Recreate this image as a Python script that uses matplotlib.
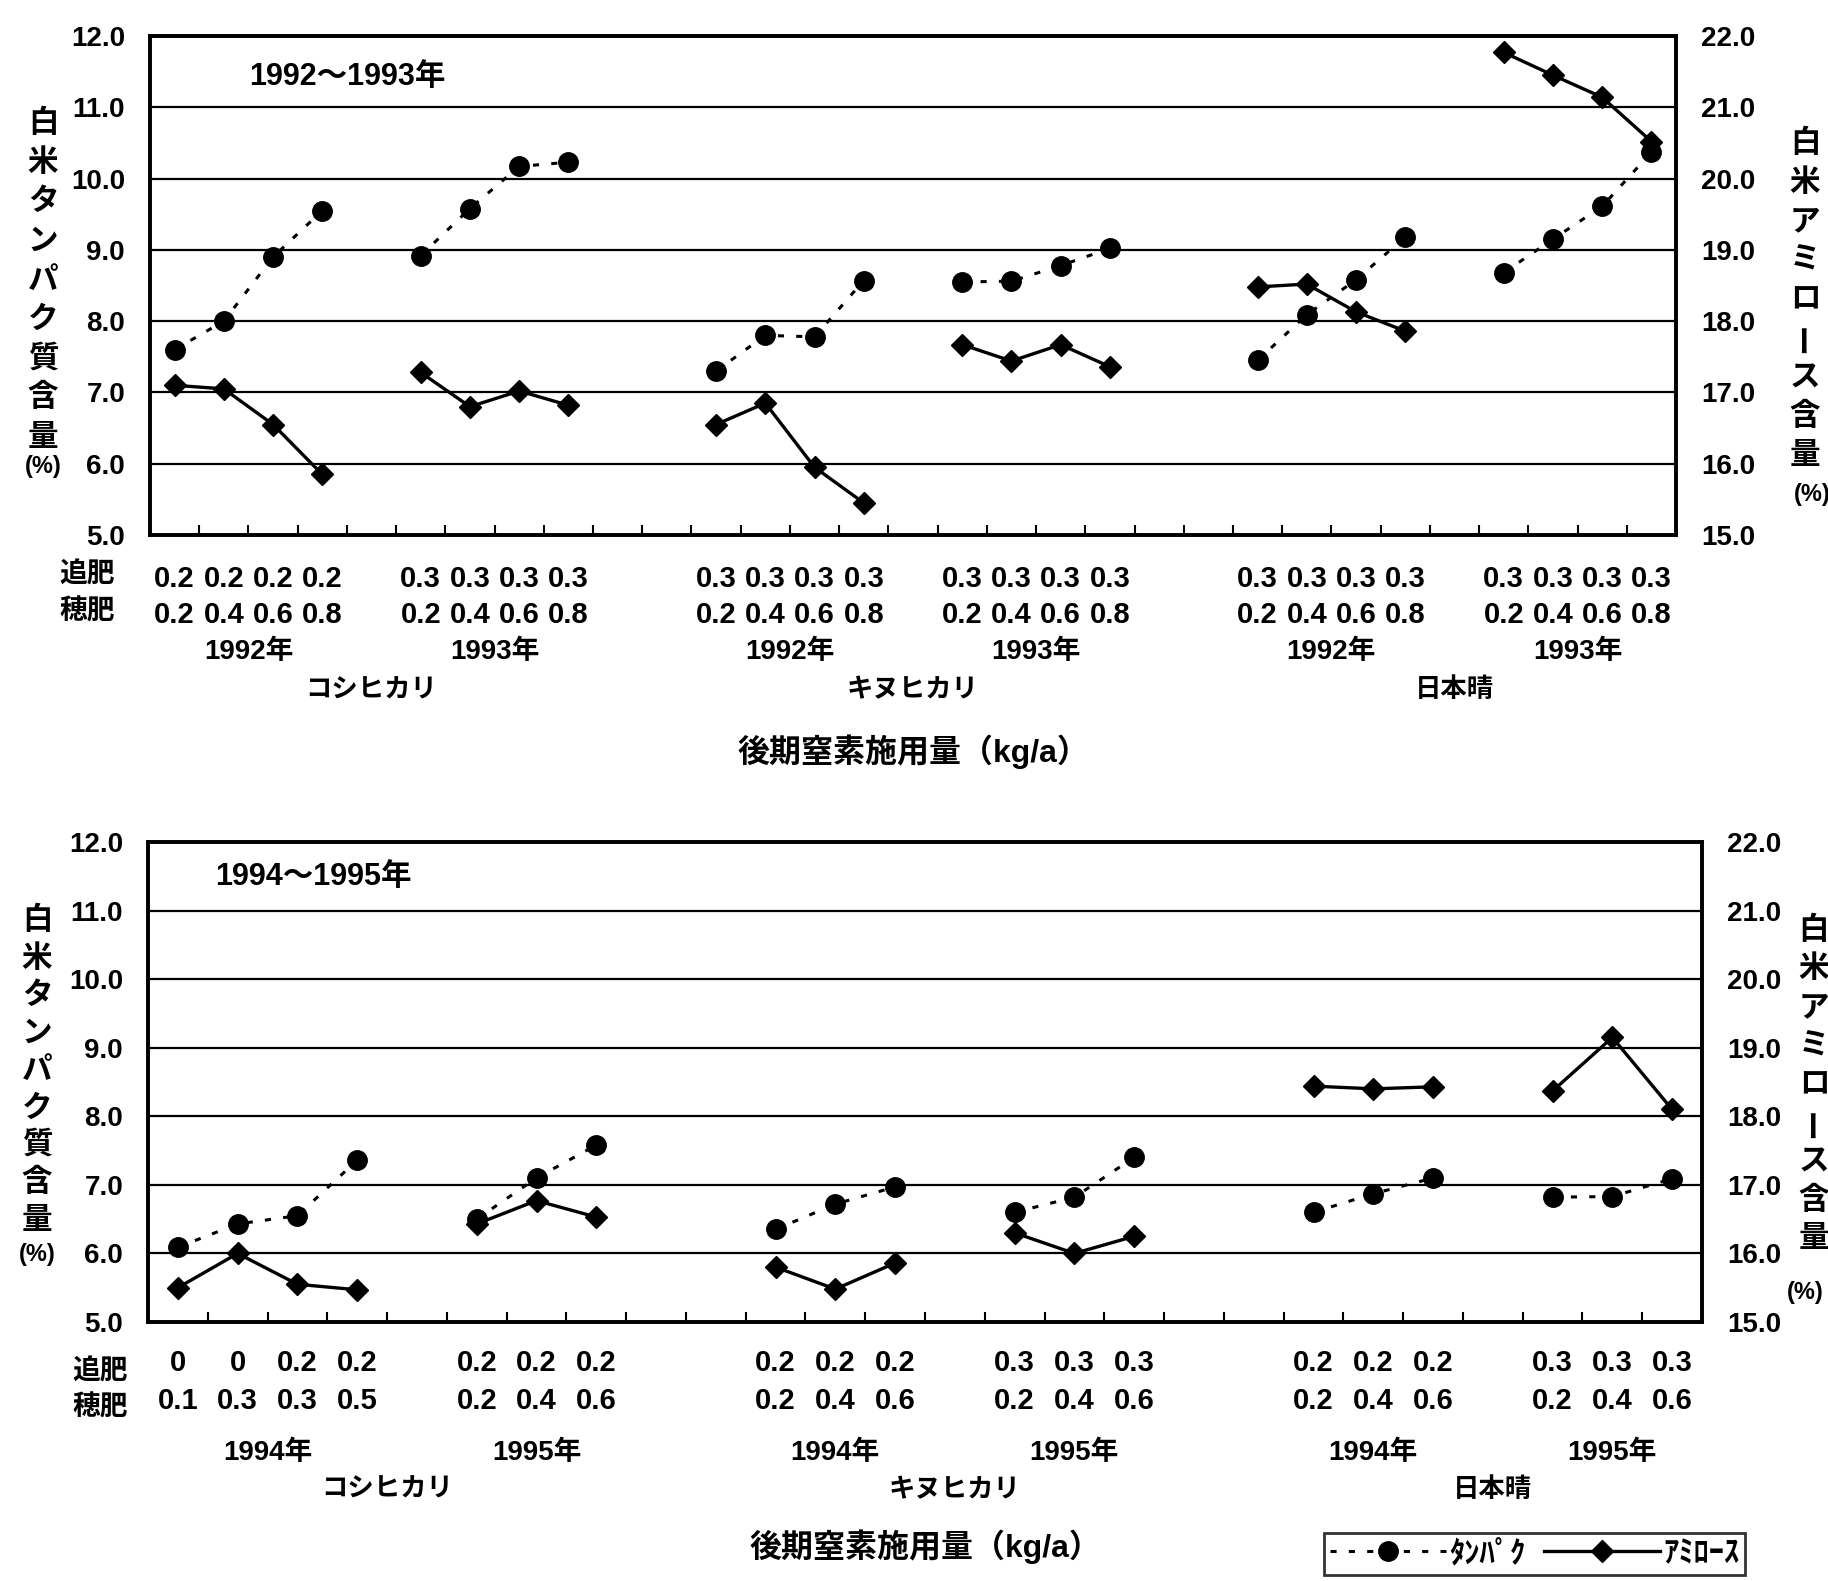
import matplotlib
matplotlib.use("Agg")
import matplotlib.pyplot as plt
from matplotlib.lines import Line2D
from matplotlib.transforms import blended_transform_factory

plt.rcParams['font.family'] = ['Liberation Sans', 'Noto Sans CJK JP', 'DejaVu Sans']
plt.rcParams['font.weight'] = 'bold'

# ---- data ----
varieties = ['コシヒカリ', 'キヌヒカリ', '日本晴']

# 1992-1993 panel (one entry per variety-year group)
top_years = ['1992年', '1993年', '1992年', '1993年', '1992年', '1993年']
top_tsuihi = [['0.2'] * 4, ['0.3'] * 4, ['0.3'] * 4, ['0.3'] * 4, ['0.3'] * 4, ['0.3'] * 4]
top_hoshi = [['0.2', '0.4', '0.6', '0.8']] * 6
top_protein = [[7.6, 8.0, 8.9, 9.55],
               [8.92, 9.58, 10.17, 10.23],
               [7.3, 7.8, 7.78, 8.57],
               [8.55, 8.56, 8.78, 9.02],
               [7.45, 8.09, 8.58, 9.18],
               [8.68, 9.15, 9.61, 10.37]]
top_amylose = [[17.1, 17.05, 16.55, 15.85],
               [17.28, 16.8, 17.02, 16.82],
               [16.55, 16.85, 15.95, 15.45],
               [17.67, 17.44, 17.67, 17.36],
               [18.48, 18.52, 18.13, 17.86],
               [21.77, 21.45, 21.14, 20.52]]

# 1994-1995 panel
bot_years = ['1994年', '1995年', '1994年', '1995年', '1994年', '1995年']
bot_tsuihi = [['0', '0', '0.2', '0.2'], ['0.2'] * 3, ['0.2'] * 3, ['0.3'] * 3, ['0.2'] * 3, ['0.3'] * 3]
bot_hoshi = [['0.1', '0.3', '0.3', '0.5'], ['0.2', '0.4', '0.6'], ['0.2', '0.4', '0.6'],
             ['0.2', '0.4', '0.6'], ['0.2', '0.4', '0.6'], ['0.2', '0.4', '0.6']]
bot_protein = [[6.09, 6.43, 6.55, 7.36],
               [6.5, 7.1, 7.58],
               [6.35, 6.72, 6.97],
               [6.6, 6.82, 7.4],
               [6.6, 6.87, 7.1],
               [6.82, 6.83, 7.09]]
bot_amylose = [[15.5, 16.0, 15.55, 15.47],
               [16.43, 16.77, 16.53],
               [15.8, 15.48, 15.86],
               [16.3, 16.0, 16.25],
               [18.44, 18.4, 18.43],
               [18.37, 19.15, 18.1]]

left_ticks = [5, 6, 7, 8, 9, 10, 11, 12]
right_ticks = [15, 16, 17, 18, 19, 20, 21, 22]
left_label = '白米タンパク質含量'
right_label = '白米アミロース含量'
xlabel = '後期窒素施用量（kg/a）'

W, H = 1828, 1581
fig = plt.figure(figsize=(W / 100, H / 100), dpi=100)


def fy(y):
    return 1 - y / H


def slot_positions(sizes):
    # one empty slot between years, two between varieties
    pos, x = [], 0
    for i, n in enumerate(sizes):
        pos.append(list(range(x, x + n)))
        x += n + (1 if i % 2 == 0 else 2)
    return pos, x - 2


def vertical_text(x, y0, step, text, size=22):
    for i, ch in enumerate(text):
        rot = 90 if ch == 'ー' else 0
        fig.text(x / W, fy(y0 + i * step), ch, ha='center', va='center',
                 fontsize=size, rotation=rot, family=['Noto Sans CJK JP'])


def panel(rect, protein, amylose, tsuihi, hoshi, years, period, rows_y, title_xy):
    ax = fig.add_axes(rect)
    ax2 = ax.twinx()
    pos, total = slot_positions([len(p) for p in protein])

    for xs, p, a in zip(pos, protein, amylose):
        ax.plot(xs, p, color='k', lw=2.2, ls=(0, (2, 4)), marker='o', ms=14, zorder=3)
        ax2.plot(xs, a, color='k', lw=2.4, ls='-', marker='D', ms=11, zorder=3)

    ax.set_xlim(-0.5, total - 0.5)
    ax.set_ylim(5, 12)
    ax2.set_ylim(15, 22)
    ax.set_yticks(left_ticks)
    ax.set_yticklabels([f'{v:.1f}' for v in left_ticks])
    ax2.set_yticks(right_ticks)
    ax2.set_yticklabels([f'{v:.1f}' for v in right_ticks])
    ax.set_xticks([i + 0.5 for i in range(total - 1)])
    ax.tick_params(axis='x', direction='in', length=7, width=1.5, labelbottom=False)
    ax.tick_params(axis='y', length=0, pad=18, labelsize=20)
    ax2.tick_params(axis='y', length=0, pad=18, labelsize=20)
    ax.grid(axis='y', color='k', lw=1.6)
    for a in (ax, ax2):
        for s in a.spines.values():
            s.set_linewidth(2.6)

    ax.text(title_xy[0] / W, fy(title_xy[1]), period, transform=fig.transFigure,
            ha='center', va='center', fontsize=22)

    tr = blended_transform_factory(ax.transData, fig.transFigure)
    r1, r2, ry, rv, rx = rows_y
    for xs, t, h, yr in zip(pos, tsuihi, hoshi, years):
        for x, a, b in zip(xs, t, h):
            ax.text(x, fy(r1), a, transform=tr, ha='center', va='center', fontsize=21)
            ax.text(x, fy(r2), b, transform=tr, ha='center', va='center', fontsize=21)
        ax.text((xs[0] + xs[-1]) / 2, fy(ry), yr, transform=tr, ha='center', va='center',
                fontsize=20)
    for k, name in enumerate(varieties):
        c = (pos[2 * k][0] + pos[2 * k + 1][-1]) / 2
        ax.text(c, fy(rv), name, transform=tr, ha='center', va='center', fontsize=19)
    ax.text((total - 1) / 2, fy(rx), xlabel, transform=tr, ha='center', va='center',
            fontsize=23)
    return ax


# top panel: 1992-1993
panel([150 / W, fy(535), 1526 / W, 499 / H], top_protein, top_amylose, top_tsuihi,
      top_hoshi, top_years, '1992〜1993年', (579, 615, 652, 690, 752), (347, 77))
fig.text(87 / W, fy(576), '追肥', ha='center', va='center', fontsize=20)
fig.text(87 / W, fy(613), '穂肥', ha='center', va='center', fontsize=20)
vertical_text(43, 123, 39.2, left_label)
fig.text(43 / W, fy(466), '(%)', ha='center', va='center', fontsize=17)
vertical_text(1805, 143, 39, right_label)
fig.text(1812 / W, fy(495), '(%)', ha='center', va='center', fontsize=17)

# bottom panel: 1994-1995
panel([148 / W, fy(1322), 1554 / W, 480 / H], bot_protein, bot_amylose, bot_tsuihi,
      bot_hoshi, bot_years, '1994〜1995年', (1363, 1401, 1453, 1490, 1547), (313, 877))
fig.text(100 / W, fy(1373), '追肥', ha='center', va='center', fontsize=20)
fig.text(100 / W, fy(1409), '穂肥', ha='center', va='center', fontsize=20)
vertical_text(37, 920, 37.5, left_label)
fig.text(37 / W, fy(1255), '(%)', ha='center', va='center', fontsize=17)
vertical_text(1814, 930, 38.5, right_label)
fig.text(1805 / W, fy(1292), '(%)', ha='center', va='center', fontsize=17)

handles = [Line2D([], [], color='k', lw=2.2, ls=(0, (2, 4)), marker='o', ms=14),
           Line2D([], [], color='k', lw=2.4, ls='-', marker='D', ms=11)]
leg = fig.legend(handles, ['ﾀﾝﾊﾟｸ', 'ｱﾐﾛｰｽ'], loc='upper left', ncol=2,
                 bbox_to_anchor=(1324 / W, fy(1533)), fontsize=22, frameon=True,
                 fancybox=False, edgecolor='k', handlelength=3.8, handletextpad=0.1,
                 columnspacing=0.6, borderpad=0.2, borderaxespad=0, numpoints=1)
leg.get_frame().set_linewidth(2)

fig.savefig('out.png', dpi=100)
